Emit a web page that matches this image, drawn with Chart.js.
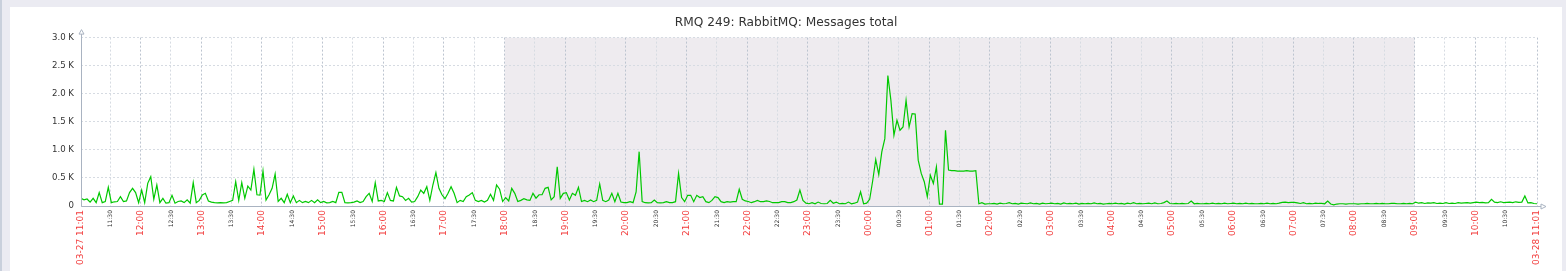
<!DOCTYPE html>
<html lang="en">
<head>
    <meta charset="UTF-8">
    <title>RMQ 249: RabbitMQ: Messages total</title>
    <script src="https://cdn.jsdelivr.net/npm/chart.js@4.4.1/dist/chart.umd.min.js"></script>
    <style>
        body { margin: 0; width: 1566px; height: 271px; overflow: hidden; position: relative; background: #ebebf2; }
        .edge { position: absolute; left: 0; top: 0; width: 2px; height: 271px; background: #c9d0dc; }
        .panel { position: absolute; left: 10px; top: 7px; width: 1552px; height: 264px; background: #fff; }
        canvas { display: block; }
    </style>
</head>
<body>
<div class="edge"></div>
<div class="panel"><canvas id="rmqChart" width="1552" height="264"></canvas></div>

<script>
    // one sample every 3 minutes, first one at 03-27 11:01
    const stepMin = 3;
    const startClock = 11 * 60 + 1;
    const chartTitle = 'RMQ 249: RabbitMQ: Messages total';

    // 11:01 - 14:58
    const msgs1 = [137,110,125,70,137,60,238,60,80,333,60,75,80,166,80,90,238,315,238,60,
                   285,60,404,523,120,374,60,137,50,60,190,50,80,90,60,110,50,416,60,100,
                   196,226,90,70,60,55,60,55,60,80,100,434,100,416,137,356,285,653,200,196,
                   624,107,200,315,570,80,137,60,208,60,178,60,100,60,80,60,100,60,110,60];
    // 15:01 - 18:58
    const msgs2 = [80,55,60,80,60,244,244,60,55,60,70,90,60,80,166,226,80,416,90,100,
                   80,238,100,90,333,180,166,100,137,70,80,166,285,226,345,100,374,594,315,200,
                   130,226,345,226,60,100,80,166,196,238,100,80,100,70,100,208,100,374,300,80,
                   150,90,315,226,80,100,130,110,100,226,140,200,200,315,333,110,166,700,137,226];
    // 19:01 - 22:58
    const msgs3 = [238,107,226,190,333,80,100,77,107,77,100,392,100,77,107,226,77,226,70,59,
                   59,77,59,250,968,80,59,55,59,107,59,55,59,77,59,59,77,582,150,77,
                   190,190,77,190,150,166,77,59,100,166,150,77,59,77,70,77,77,297,120,90,
                   80,59,77,100,77,77,90,80,59,59,59,77,77,59,59,77,107,285,100,50];
    // 23:01 - 02:58
    const msgs4 = [40,60,40,70,45,40,45,100,50,70,40,45,40,70,40,50,70,254,40,50,
                   120,450,828,560,964,1200,2325,1882,1260,1527,1349,1408,1882,1408,1645,1640,817,580,432,166,
                   550,400,698,35,35,1349,640,630,630,620,620,620,630,620,620,630,40,59,35,40,
                   40,45,35,50,40,45,60,40,45,35,50,45,40,55,40,45,35,50,40,45];
    // 03:01 - 06:58
    const msgs5 = [50,40,45,35,55,40,45,40,50,35,45,40,45,40,55,40,45,35,40,45,
                   40,50,40,45,35,50,40,60,40,45,40,45,50,40,55,40,45,60,89,45,
                   40,45,40,45,40,45,89,40,45,40,40,45,40,50,40,45,40,50,40,45,
                   50,40,45,40,50,40,45,40,40,45,40,50,40,45,40,50,65,70,60,65];
    // 07:01 - 11:01
    const msgs6 = [65,55,45,60,40,45,40,50,45,45,40,89,35,20,35,40,40,35,40,40,
                   40,35,40,40,45,40,40,45,40,45,40,40,45,45,40,40,45,40,45,40,
                   70,50,60,45,55,50,60,45,50,45,60,45,50,45,60,50,55,60,50,60,
                   70,60,65,55,60,119,70,60,75,60,65,70,60,75,65,70,178,55,60,45,40];

    const msgsTotal = [].concat(msgs1, msgs2, msgs3, msgs4, msgs5, msgs6);

    const xTickLabels = ['03-27 11:01','11:30','12:00','12:30','13:00','13:30','14:00','14:30','15:00','15:30',
        '16:00','16:30','17:00','17:30','18:00','18:30','19:00','19:30','20:00','20:30','21:00','21:30',
        '22:00','22:30','23:00','23:30','00:00','00:30','01:00','01:30','02:00','02:30','03:00','03:30',
        '04:00','04:30','05:00','05:30','06:00','06:30','07:00','07:30','08:00','08:30','09:00','09:30',
        '10:00','10:30','03-28 11:01'];
    const yTickValues = [0, 500, 1000, 1500, 2000, 2500, 3000];
    const yTickLabels = ['0', '0.5 K', '1.0 K', '1.5 K', '2.0 K', '2.5 K', '3.0 K'];

    // working hours are white, the rest is shaded
    const nightFrom = '18:00';
    const nightTo = '09:00';

    function minutesFromStart(label, idx) {
        if (label.indexOf('-') > 0) return idx === 0 ? 0 : 1440;
        const parts = label.split(':').map(Number);
        return (parts[0] * 60 + parts[1] - startClock + 1440) % 1440;
    }
    const xTickValues = xTickLabels.map(minutesFromStart);
    const isMajor = i => xTickLabels[i] !== undefined && (xTickLabels[i].indexOf('-') > 0 || xTickLabels[i].endsWith(':00'));

    const nightShade = {
        id: 'nightShade',
        beforeDraw(chart) {
            const a = chart.chartArea, xs = chart.scales.x, c = chart.ctx;
            const x1 = xs.getPixelForValue(minutesFromStart(nightFrom, 1));
            const x2 = xs.getPixelForValue(minutesFromStart(nightTo, 1));
            c.save();
            c.fillStyle = '#eeebef';
            c.fillRect(x1, a.top, x2 - x1, a.bottom - a.top);
            c.restore();
        }
    };

    const axisLines = {
        id: 'axisLines',
        afterDraw(chart) {
            const a = chart.chartArea, c = chart.ctx;
            const x0 = Math.round(a.left) + 0.5, y0 = Math.round(a.bottom) + 0.5;
            c.save();
            c.strokeStyle = '#a9b3c1';
            c.lineWidth = 1;
            c.beginPath();
            c.moveTo(x0, y0); c.lineTo(x0, a.top - 3.5);
            c.moveTo(x0, y0); c.lineTo(a.right + 4, y0);
            c.stroke();
            c.fillStyle = '#fff';
            c.beginPath();
            c.moveTo(x0, a.top - 8); c.lineTo(x0 - 2.5, a.top - 3.5); c.lineTo(x0 + 2.5, a.top - 3.5);
            c.closePath(); c.fill(); c.stroke();
            c.beginPath();
            c.moveTo(a.right + 9, y0); c.lineTo(a.right + 4, y0 - 2.5); c.lineTo(a.right + 4, y0 + 2.5);
            c.closePath(); c.fill(); c.stroke();
            // title, centred on the whole panel
            c.fillStyle = '#333';
            c.font = '12.2px "DejaVu Sans"';
            c.textAlign = 'center';
            c.textBaseline = 'middle';
            c.fillText(chartTitle, chart.width / 2, 16);
            c.restore();
        }
    };

    const ctx = document.getElementById('rmqChart').getContext('2d');
    const rmqChart = new Chart(ctx, {
        type: 'line',
        data: {
            datasets: [{
                label: 'Messages total',
                data: msgsTotal.map((v, i) => ({ x: i * stepMin, y: v })),
                borderColor: '#00c800',
                borderWidth: 1.2,
                pointRadius: 0,
                tension: 0,
                fill: false
            }]
        },
        options: {
            responsive: false,
            animation: false,
            devicePixelRatio: 1,
            layout: { padding: { left: 0, right: 25, top: 30.6, bottom: 0 } },
            plugins: {
                legend: { display: false },
                tooltip: { enabled: false },
                title: { display: false }
            },
            scales: {
                x: {
                    type: 'linear',
                    min: 0,
                    max: 1440,
                    afterBuildTicks: s => { s.ticks = xTickValues.map(v => ({ value: v })); },
                    afterFit: s => { s.height = 65; },
                    grid: { color: c => isMajor(c.index) ? '#bcc4cf' : '#d6dbe2', drawTicks: false },
                    border: { display: false, dash: [2, 2] },
                    ticks: {
                        autoSkip: false,
                        maxRotation: 90,
                        minRotation: 90,
                        padding: 4,
                        callback: (v, i) => xTickLabels[i],
                        color: c => isMajor(c.index) ? '#f23b3b' : '#333',
                        font: c => ({ family: 'DejaVu Sans', size: isMajor(c.index) ? 9 : 6 })
                    }
                },
                y: {
                    min: 0,
                    max: 3000,
                    afterBuildTicks: s => { s.ticks = yTickValues.map(v => ({ value: v })); },
                    afterFit: s => { s.width = 71; },
                    grid: { color: '#d6dbe2', drawTicks: false },
                    border: { display: false, dash: [2, 2] },
                    ticks: {
                        padding: 7,
                        color: '#333',
                        font: { family: 'DejaVu Sans', size: 8.6 },
                        callback: (v, i) => yTickLabels[i]
                    }
                }
            }
        },
        plugins: [nightShade, axisLines]
    });
</script>
</body>
</html>
